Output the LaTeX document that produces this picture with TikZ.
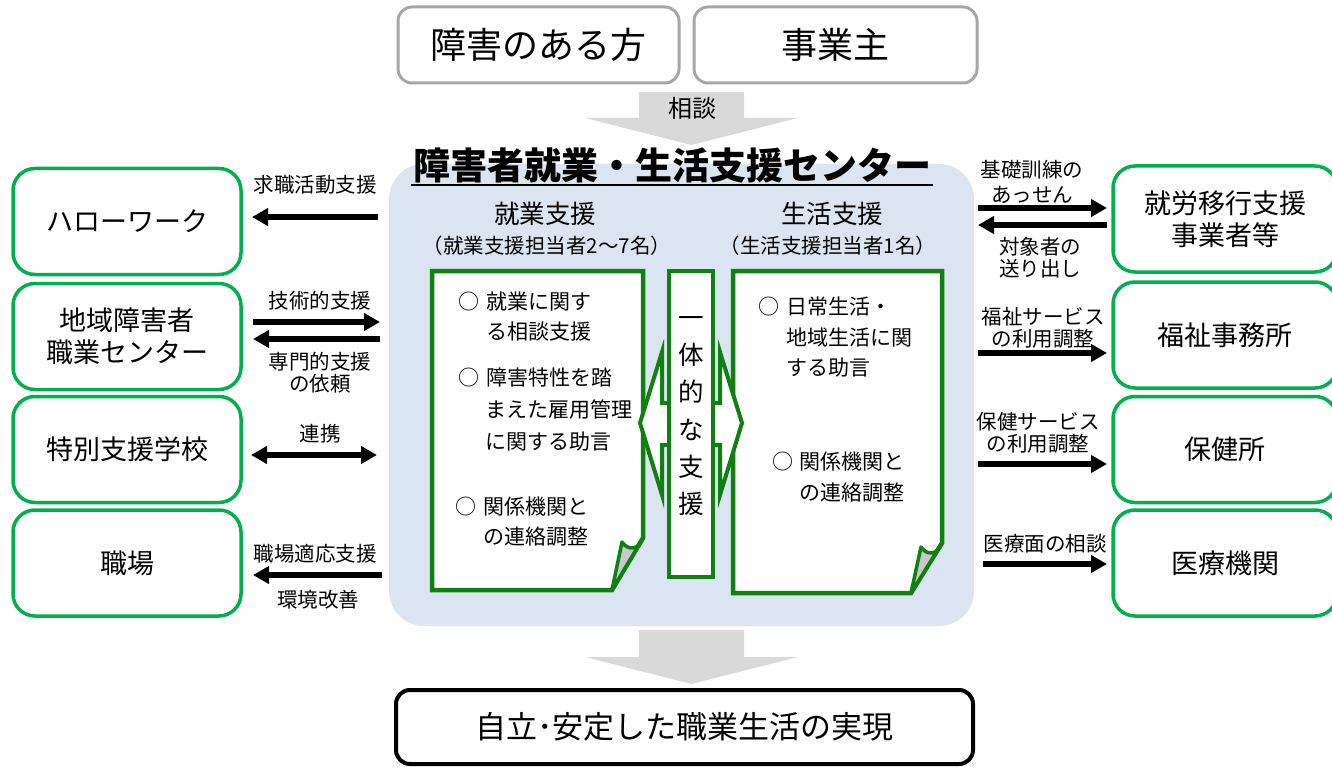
\documentclass[tikz,border=0pt]{standalone}
\usepackage{fontspec}
\setmainfont{Noto Sans CJK JP}
\usetikzlibrary{arrows.meta}
\definecolor{ogreen}{RGB}{0,176,80}
\definecolor{dgreen}{RGB}{16,128,16}
\definecolor{bluebg}{RGB}{219,228,241}
\definecolor{gbox}{RGB}{166,166,166}
\definecolor{garrow}{RGB}{217,217,217}
\definecolor{flapgray}{RGB}{200,200,200}
\newcommand{\fsz}[2]{\fontsize{#1}{#2}\selectfont}
\begin{document}
\begin{tikzpicture}[x=1pt,y=-1pt,
  every node/.style={inner sep=0pt,outer sep=0pt},
  topbox/.style={draw=gbox,line width=3pt,rounded corners=14pt,fill=white,
    minimum height=76pt,font=\fsz{36}{40}},
  endbox/.style={draw=black,line width=4pt,rounded corners=14pt,fill=white,
    minimum width=577pt,minimum height=74pt,font=\fsz{31}{36}},
  outbox/.style={draw=ogreen,line width=3.5pt,rounded corners=22pt,fill=white,
    minimum height=106pt,align=center,font=\fsz{27}{32}},
  lbl/.style={align=center,font=\fsz{20.5}{22}},
  ptxt/.style={anchor=west,font=\fsz{21}{24}},
  paper/.style={draw=dgreen,line width=4.5pt,fill=white,line join=miter},
  flap/.style={draw=dgreen,line width=3.5pt,fill=flapgray,line join=round},
  bigarrow/.style={fill=garrow,draw=none},
  conn/.style={line width=5.5pt,-{Triangle[length=16pt,width=17pt]}},
  conn2/.style={line width=5.5pt,{Triangle[length=16pt,width=17pt]}-{Triangle[length=16pt,width=17pt]}}
]
\useasboundingbox (0,0) rectangle (1332,767);
\clip (0,0) rectangle (1332,767);
\fill[white] (0,0) rectangle (1332,767);

% top boxes
\node[topbox,minimum width=281pt] (person) at (538.5,45) {障害のある方};
\node[topbox,minimum width=283pt] (employer) at (835.5,45) {事業主};

% grey arrows
\fill[bigarrow] (639,92) -- (744,92) -- (744,118) -- (798,118) -- (691.5,145) -- (585,118) -- (639,118) -- cycle;
\node[font=\fsz{24}{28}] (soudan) at (692,108) {相談};
\fill[bigarrow] (639,630) -- (744,630) -- (744,657) -- (798,657) -- (691.5,684) -- (585,657) -- (639,657) -- cycle;

% central blue area
\fill[bluebg,rounded corners=35pt] (389,164) rectangle (974,626);
\node[font=\fsz{37}{42}\bfseries] (title) at (672,165) {障害者就業・生活支援センター};
\draw[line width=2.5pt] (411,185) -- (933,185);

\node[font=\fsz{25.5}{28}] (h1) at (545,214) {就業支援};
\node[font=\fsz{20.5}{24}] (h2) at (547,246) {（就業支援担当者2〜7名）};
\node[font=\fsz{25.5}{28}] (h3) at (832,214) {生活支援};
\node[font=\fsz{20.5}{24}] (h4) at (828,246) {（生活支援担当者1名）};

% papers
\draw[paper] (432,271) -- (643,271) -- (643,538) -- (612,590) -- (432,590) -- cycle;
\draw[flap] (643,538) .. controls (639,550) and (628,551) .. (622,542) -- (612,590) -- cycle;
\draw[paper] (733,271) -- (942,271) -- (942,543) -- (911,593) -- (733,593) -- cycle;
\draw[flap] (942,543) .. controls (938,555) and (927,556) .. (921,547) -- (911,593) -- cycle;

% integrated support double arrow and middle column
\draw[draw=dgreen,line width=4pt,fill=white,line join=miter]
  (640,423) -- (662,352) -- (662,403) -- (720,403) -- (720,352) -- (742,423)
  -- (720,495) -- (720,445) -- (662,445) -- (662,495) -- cycle;
\node[draw=dgreen,line width=4pt,fill=white,minimum width=44pt,minimum height=306pt] (mid) at (691,423.5) {};
\node[align=center,font=\fsz{25.5}{37.3}] (vtext) at (691,416) {一\\体\\的\\な\\支\\援};

% left paper text
\node[ptxt] (c1) at (458,302) {○};
\node[ptxt] (t1) at (486,302) {就業に関す};
\node[ptxt] (t2) at (486,332) {る相談支援};
\node[ptxt] (c2) at (458,378) {○};
\node[ptxt] (t3) at (486,378) {障害特性を踏};
\node[ptxt] (t4) at (485,410) {まえた雇用管理};
\node[ptxt] (t5) at (485,442) {に関する助言};
\node[ptxt] (c3) at (455,507) {○};
\node[ptxt] (t6) at (483,507) {関係機関と};
\node[ptxt] (t7) at (483,537) {の連絡調整};

% right paper text
\node[ptxt] (c4) at (758,307) {○};
\node[ptxt] (t8) at (786,307) {日常生活・};
\node[ptxt] (t9) at (786,338) {地域生活に関};
\node[ptxt] (t10) at (786,368) {する助言};
\node[ptxt] (c5) at (772,462) {○};
\node[ptxt] (t11) at (799,462) {関係機関と};
\node[ptxt] (t12) at (799,493) {の連絡調整};

% left boxes
\node[outbox,minimum width=228pt] (hw) at (127,221.5) {ハローワーク};
\node[outbox,minimum width=228pt] (chiiki) at (127,336.5) {地域障害者\\職業センター};
\node[outbox,minimum width=228pt] (tokubetsu) at (127,449.5) {特別支援学校};
\node[outbox,minimum width=228pt] (shokuba) at (127,563) {職場};

% right boxes
\node[outbox,minimum width=224pt] (iko) at (1225,219) {就労移行支援\\事業者等};
\node[outbox,minimum width=224pt] (fukushi) at (1225,335) {福祉事務所};
\node[outbox,minimum width=224pt] (hoken) at (1225,449.5) {保健所};
\node[outbox,minimum width=224pt] (iryo) at (1225,563) {医療機関};

% bottom box
\node[endbox] (goal) at (684.5,727) {自立･安定した職業生活の実現};

% connector end points
\coordinate (a1s) at (378,217);  \coordinate (a1e) at (252,217);
\coordinate (a2s) at (253,322);  \coordinate (a2e) at (380,322);
\coordinate (a3s) at (380,339);  \coordinate (a3e) at (253,339);
\coordinate (a4s) at (251,455);  \coordinate (a4e) at (377,455);
\coordinate (a5s) at (382,575);  \coordinate (a5e) at (253,575);
\coordinate (b1s) at (978,208);  \coordinate (b1e) at (1107,208);
\coordinate (b2s) at (1107,225); \coordinate (b2e) at (978,225);
\coordinate (b3s) at (978,353);  \coordinate (b3e) at (1107,353);
\coordinate (b4s) at (978,464);  \coordinate (b4e) at (1107,464);
\coordinate (b5s) at (983,564);  \coordinate (b5e) at (1107,564);

\draw[conn] (a1s) -- (a1e);
\draw[conn] (a2s) -- (a2e);
\draw[conn] (a3s) -- (a3e);
\draw[conn2] (a4s) -- (a4e);
\draw[conn] (a5s) -- (a5e);
\draw[conn] (b1s) -- (b1e);
\draw[conn] (b2s) -- (b2e);
\draw[conn] (b3s) -- (b3e);
\draw[conn] (b4s) -- (b4e);
\draw[conn] (b5s) -- (b5e);

% connector labels
\node[lbl] (l1) at (315,185) {求職活動支援};
\node[lbl] (l2) at (320,301) {技術的支援};
\node[lbl] (l3) at (320,372.5) {専門的支援\\の依頼};
\node[lbl] (l4) at (320,434) {連携};
\node[lbl] (l5) at (315,554) {職場適応支援};
\node[lbl] (l6) at (318,600) {環境改善};
\node[lbl,font=\fsz{20.5}{25}] (r1) at (1032,182) {基礎訓練の\\あっせん};
\node[lbl] (r2) at (1040,257.5) {対象者の\\送り出し};
\node[lbl] (r3) at (1043,328) {福祉サービス\\の利用調整};
\node[lbl] (r4) at (1038,433) {保健サービス\\の利用調整};
\node[lbl] (r5) at (1045,544) {医療面の相談};
\end{tikzpicture}
\end{document}
